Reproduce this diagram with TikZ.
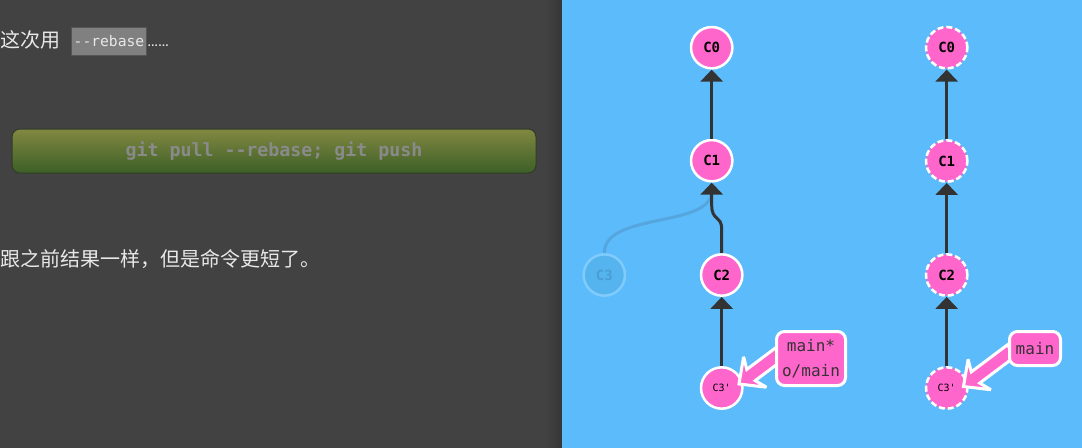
\documentclass[tikz,border=0pt]{standalone}
\usepackage{fontspec}
\newfontfamily\cjk{Noto Sans CJK SC}
\setmonofont{DejaVu Sans Mono}
\newfontfamily\lib{Liberation Sans}
\usetikzlibrary{arrows.meta,calc}
\definecolor{panel}{HTML}{424242}
\definecolor{strip}{HTML}{353535}
\definecolor{bg}{HTML}{5CBBFB}
\definecolor{pink}{HTML}{FF66CC}
\definecolor{ink}{HTML}{333333}
\definecolor{btntop}{HTML}{828841}
\definecolor{btnbot}{HTML}{3C5F27}
\definecolor{btntext}{HTML}{8A8A8A}
\definecolor{btnborder}{HTML}{323C28}
\definecolor{codefill}{HTML}{808080}
\definecolor{codeborder}{HTML}{555555}
\definecolor{ghostfill}{HTML}{55B3EE}
\definecolor{ghostring}{HTML}{7FCBFC}
\definecolor{ghosttext}{HTML}{4A9DD5}
\definecolor{ghostline}{HTML}{55A6DE}
\definecolor{lighttext}{HTML}{E8E8E8}
\tikzset{
  commit/.style={circle, fill=pink, draw=white, line width=1.9pt, minimum size=31pt,
    inner sep=0pt, text=black, font=\ttfamily\bfseries\fontsize{10.5pt}{12pt}\selectfont},
  dashedcommit/.style={commit, dash pattern=on 4.5pt off 2.2pt},
  ghost/.style={circle, fill=ghostfill, draw=ghostring, line width=1.9pt, minimum size=31pt,
    inner sep=0pt, text=ghosttext, font=\ttfamily\bfseries\fontsize{10.5pt}{12pt}\selectfont},
  small/.style={font=\ttfamily\fontsize{7.5pt}{9pt}\selectfont},
  edge/.style={draw=ink, line width=2.25pt, -{Triangle[length=9pt,width=16.5pt]}},
  ghostedge/.style={draw=ghostline, line width=2.25pt},
  branchbox/.style={rectangle, rounded corners=6pt, fill=pink, draw=white, line width=2.25pt,
    inner sep=0pt, align=center, text=ink, font=\ttfamily\fontsize{12pt}{18.75pt}\selectfont},
  branchshape/.style={fill=pink, draw=white, line width=2.25pt, line join=miter, miter limit=4},
  cjktext/.style={inner sep=0pt, text=lighttext, font=\cjk\fontsize{15pt}{18pt}\selectfont}
}
\newcommand\brancharrow[1]{%
  \path[branchshape] (#1) -- ($(#1)+(27.4,3.2)$) -- ($(#1)+(16.2,-3.4)$) -- ($(#1)+(52.2,-30.4)$)
    -- ($(#1)+(43.8,-41.6)$) -- ($(#1)+(7.8,-14.6)$) -- ($(#1)+(4.6,-27.2)$) -- cycle;}
\begin{document}
\begin{tikzpicture}[x=0.75pt,y=-0.75pt]
\useasboundingbox (0,0) rectangle (1082,447);
% backgrounds
\fill[panel] (-5,-5) rectangle (562,452);
\shade[left color=panel, right color=strip] (546,-5) rectangle (562,452);
\fill[bg] (562,-5) rectangle (1087,452);

% left panel
\node[cjktext, anchor=base west] (t1) at (0,47.5) {这次用};
\node[rectangle, fill=codefill, draw=codeborder, line width=0.75pt,
  minimum width=56pt, minimum height=21pt, inner sep=0pt, text=lighttext,
  font=\ttfamily\fontsize{11pt}{12pt}\selectfont] (code) at (109,41.5) {--rebase};
\node[inner sep=0pt, anchor=base west, text=lighttext, font=\lib\bfseries\fontsize{8.2pt}{10pt}\selectfont] (dots) at (147,46.5) {……};
\node[rectangle, rounded corners=6pt, top color=btntop, bottom color=btnbot,
  draw=btnborder, line width=0.75pt,
  minimum width=393pt, minimum height=33pt, inner sep=0pt, text=btntext,
  font=\ttfamily\bfseries\fontsize{13.7pt}{16pt}\selectfont] (btn) at (274,151) {git pull --rebase; git push};
\node[cjktext, anchor=base west] (t2) at (0,266) {跟之前结果一样，但是命令更短了。};

% left tree
\node[ghost] (C3) at (604.3,275) {C3};
\node[commit] (C0) at (711.7,47.7) {C0};
\node[commit] (C1) at (711.7,160.7) {C1};
\node[commit] (C2) at (721.7,275) {C2};
\node[commit, small] (C3p) at (721.7,388) {C3'};
\draw[ghostedge] (C3.north) .. controls (604.3,212) and (710,228) .. (711.7,192);
\draw[edge] (C1) -- (C0);
\draw[edge] (C2.north) -- (721.7,230) .. controls (721.7,214) and (711.7,222) .. (711.7,205) -- (C1.south);
\draw[edge] (C3p) -- (C2);
\coordinate (tipL) at (739,384);
\brancharrow{tipL}
\node[branchbox, minimum width=51.75pt, minimum height=40.5pt] (mainL) at (811,358.5) {main*\\o/main};

% right tree
\node[dashedcommit] (D0) at (946.7,47.7) {C0};
\node[dashedcommit] (D1) at (946.7,161) {C1};
\node[dashedcommit] (D2) at (946.7,275) {C2};
\node[dashedcommit, small] (D3p) at (946.7,388) {C3'};
\draw[edge] (D1) -- (D0);
\draw[edge] (D2) -- (D1);
\draw[edge] (D3p) -- (D2);
\coordinate (tipR) at (963.5,386.5);
\brancharrow{tipR}
\node[branchbox, minimum width=38.25pt, minimum height=25.5pt] (mainR) at (1035,348.5) {main};
\end{tikzpicture}
\end{document}
